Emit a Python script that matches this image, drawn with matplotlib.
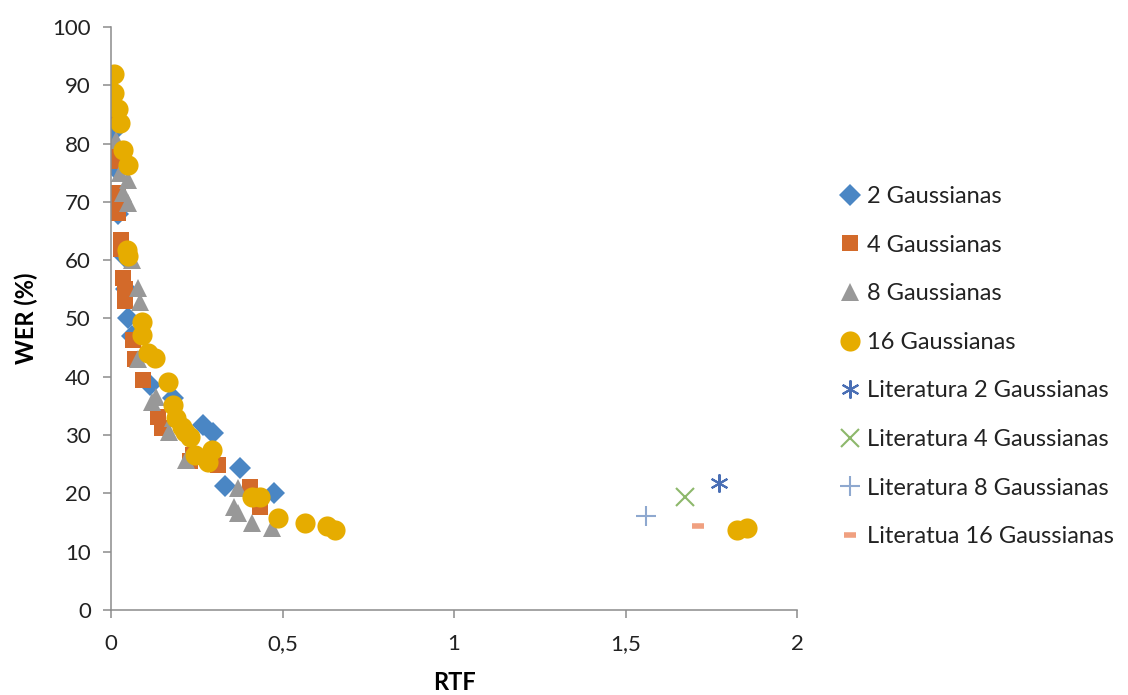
import matplotlib
matplotlib.use("Agg")
import matplotlib.pyplot as plt
from matplotlib.ticker import FuncFormatter

plt.rcParams['font.family'] = ['Lato', 'DejaVu Sans']

# ---- data (RTF, WER %) ----
g2_rtf = [0.000, 0.003, 0.003, 0.005, 0.012, 0.020, 0.040, 0.045, 0.050, 0.060,
          0.114, 0.180, 0.268, 0.297, 0.376, 0.332, 0.475]
g2_wer = [88.0, 81.8, 80.0, 77.0, 75.8, 68.0, 60.5, 55.0, 50.0, 47.0,
          38.6, 36.4, 31.7, 30.4, 24.4, 21.3, 20.1]

g4_rtf = [0.000, 0.000, 0.003, 0.005, 0.008, 0.020, 0.018, 0.020, 0.030, 0.030,
          0.035, 0.040, 0.040, 0.064, 0.070, 0.093, 0.137, 0.150, 0.239, 0.312,
          0.405, 0.434, 0.230]
g4_wer = [88.0, 86.0, 84.0, 79.0, 77.0, 71.5, 70.3, 68.1, 63.5, 62.0,
          57.0, 55.0, 53.0, 46.3, 43.0, 39.4, 33.1, 31.2, 26.6, 24.9,
          21.1, 17.7, 25.5]

g8_rtf = [0.010, 0.015, 0.025, 0.050, 0.035, 0.050, 0.060, 0.080, 0.085, 0.080,
          0.120, 0.130, 0.180, 0.170, 0.220, 0.370, 0.360, 0.370, 0.410, 0.470]
g8_wer = [90.0, 80.6, 75.0, 73.7, 71.5, 69.8, 60.0, 55.2, 52.8, 43.0,
          35.7, 36.5, 33.0, 30.5, 25.7, 20.9, 17.7, 16.6, 14.9, 14.1]

g16_rtf = [0.010, 0.010, 0.020, 0.025, 0.035, 0.050, 0.047, 0.050, 0.090, 0.090,
           0.108, 0.128, 0.166, 0.180, 0.190, 0.207, 0.216, 0.230, 0.245, 0.283,
           0.294, 0.410, 0.434, 0.487, 0.566, 0.630, 0.653, 1.825, 1.854]
g16_wer = [92.0, 88.6, 86.0, 83.5, 78.9, 76.3, 61.7, 60.7, 49.4, 47.2,
           44.0, 43.2, 39.1, 35.2, 32.9, 31.4, 30.5, 29.7, 26.6, 25.4,
           27.4, 19.4, 19.4, 15.8, 14.9, 14.4, 13.7, 13.7, 14.0]

lit2_rtf, lit2_wer = [1.773], [21.8]
lit4_rtf, lit4_wer = [1.673], [19.4]
lit8_rtf, lit8_wer = [1.560], [16.1]
lit16_rtf, lit16_wer = [1.711], [14.4]

x_ticks = [0, 0.5, 1, 1.5, 2]
y_ticks = list(range(0, 101, 10))

fig = plt.figure(figsize=(11.28, 6.95), dpi=100)
ax = fig.add_axes([0.0984, 0.1223, 0.6082, 0.8389])

ax.plot(g2_rtf, g2_wer, 'D', color='#4A86C4', markersize=11, markeredgewidth=0, label='2 Gaussianas')
ax.plot(g4_rtf, g4_wer, 's', color='#D36A2A', markersize=12, markeredgewidth=0, label='4 Gaussianas')
ax.plot(g8_rtf, g8_wer, '^', color='#989898', markersize=13, markeredgewidth=0, label='8 Gaussianas')
ax.plot(g16_rtf, g16_wer, 'o', color='#E6AC00', markersize=14.5, markeredgewidth=0, label='16 Gaussianas')
ax.plot(lit2_rtf, lit2_wer, marker=(6, 2, 0), linestyle='none', color='#4A6FB5', markersize=13,
        markeredgewidth=1.5, label='Literatura 2 Gaussianas')
ax.plot(lit4_rtf, lit4_wer, 'x', color='#8DB86B', markersize=13, markeredgewidth=1.5,
        label='Literatura 4 Gaussianas')
ax.plot(lit8_rtf, lit8_wer, '+', color='#8EA8CF', markersize=14, markeredgewidth=1.5,
        label='Literatura 8 Gaussianas')
ax.plot(lit16_rtf, lit16_wer, '_', color='#F0A080', markersize=8, markeredgewidth=4,
        label='Literatua 16 Gaussianas')

ax.set_xlim(0, 2)
ax.set_ylim(0, 100)
ax.set_xticks(x_ticks)
ax.set_yticks(y_ticks)
ax.xaxis.set_major_formatter(FuncFormatter(lambda v, p: ('%g' % v).replace('.', ',')))

for s in ['top', 'right']:
    ax.spines[s].set_visible(False)
for s in ['left', 'bottom']:
    ax.spines[s].set_color('#8C8C8C')
    ax.spines[s].set_linewidth(1.1)
ax.tick_params(axis='both', direction='out', color='#8C8C8C', width=1.1, length=5.5,
               labelsize=16, labelcolor='#222222')
ax.tick_params(axis='x', pad=12)
ax.tick_params(axis='y', pad=9)

ax.set_xlabel('RTF', fontsize=17, fontweight='bold', labelpad=12)
ax.set_ylabel('WER (%)', fontsize=17, fontweight='bold', labelpad=10)

leg = fig.legend(loc='upper left', bbox_to_anchor=(0.736, 0.746), frameon=False,
                 fontsize=17, labelspacing=1.17, handlelength=0.85, handletextpad=0.3,
                 borderaxespad=0)
for t in leg.get_texts():
    t.set_color('#222222')

fig.savefig('out.png', dpi=100)
